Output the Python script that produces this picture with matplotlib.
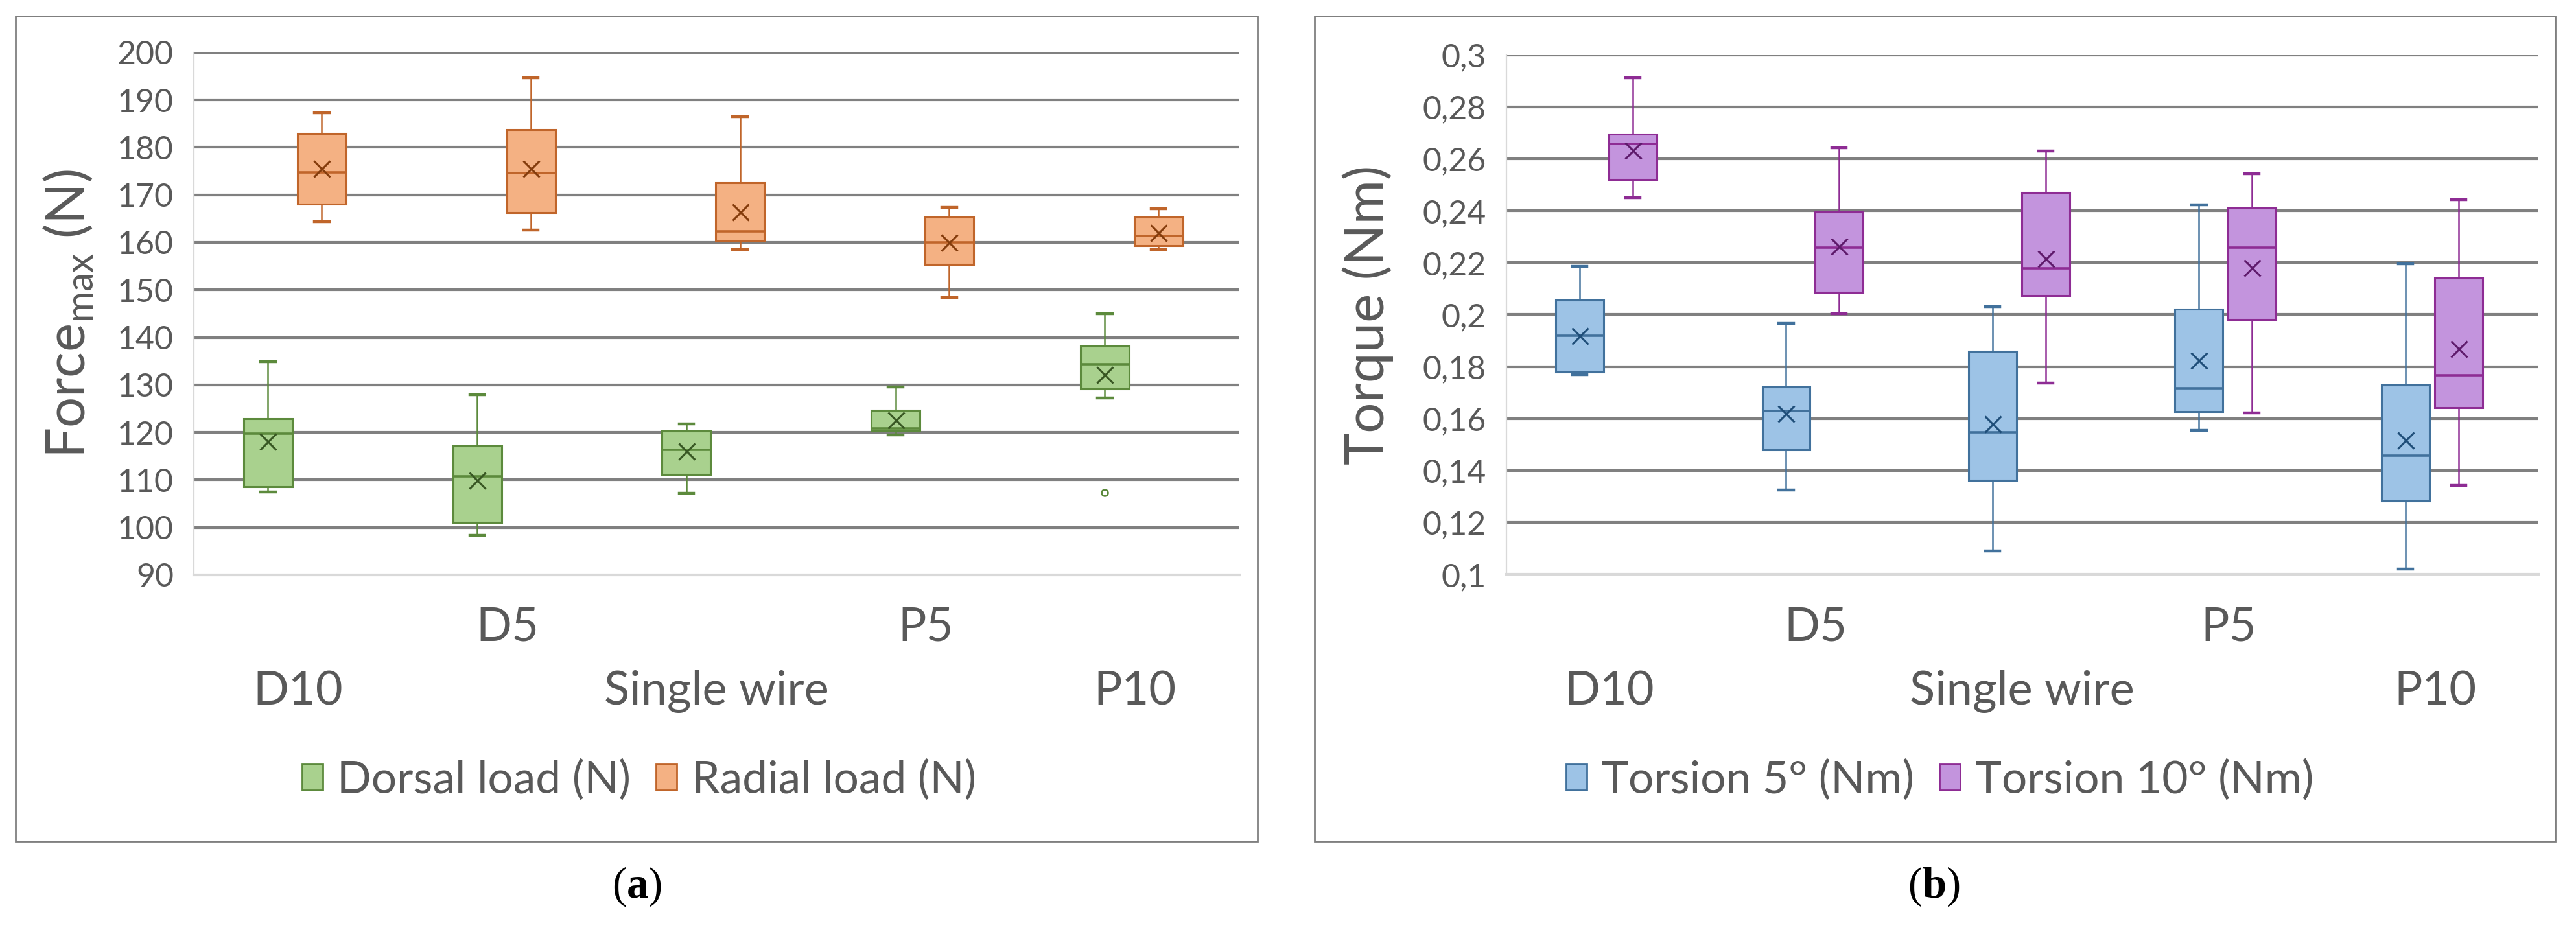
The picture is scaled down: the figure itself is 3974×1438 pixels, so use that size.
import matplotlib
matplotlib.use('Agg')
import matplotlib.pyplot as plt
from matplotlib.patches import Patch, Rectangle
from matplotlib import transforms

plt.rcParams['font.family'] = ['Lato', 'DejaVu Sans']
plt.rcParams['mathtext.fontset'] = 'custom'
plt.rcParams['mathtext.rm'] = 'Lato'
plt.rcParams['mathtext.bf'] = 'Liberation Serif:bold'

# data
categories = ['D10', 'D5', 'Single wire', 'P5', 'P10']

dorsal_whislo = [107.5, 98.3, 107.2, 119.4, 127.2]
dorsal_q1 = [108.5, 101.1, 111.2, 120.3, 129.1]
dorsal_med = [119.7, 110.7, 116.3, 120.8, 134.3]
dorsal_q3 = [122.9, 117.2, 120.3, 124.7, 138.2]
dorsal_whishi = [134.9, 127.9, 121.8, 129.6, 145.0]
dorsal_mean = [118.1, 109.9, 116.0, 122.6, 132.2]
dorsal_fliers = [[], [], [], [], [107.3]]

radial_whislo = [164.3, 162.6, 158.5, 148.4, 158.5]
radial_q1 = [168.0, 166.3, 160.3, 155.3, 159.3]
radial_med = [174.7, 174.6, 162.3, 160.0, 161.4]
radial_q3 = [182.9, 183.8, 172.5, 165.3, 165.3]
radial_whishi = [187.3, 194.6, 186.4, 167.3, 167.1]
radial_mean = [175.5, 175.5, 166.4, 160.0, 162.0]

t5_whislo = [0.1769, 0.1324, 0.1091, 0.1555, 0.1021]
t5_q1 = [0.178, 0.148, 0.1362, 0.1628, 0.1283]
t5_med = [0.192, 0.163, 0.1546, 0.1717, 0.1457]
t5_q3 = [0.2055, 0.1722, 0.1858, 0.202, 0.173]
t5_whishi = [0.2185, 0.1966, 0.2031, 0.2423, 0.2196]
t5_mean = [0.192, 0.1619, 0.158, 0.1825, 0.1518]

t10_whislo = [0.2451, 0.2003, 0.1736, 0.1621, 0.1342]
t10_q1 = [0.2521, 0.2086, 0.2073, 0.1981, 0.1641]
t10_med = [0.2658, 0.2259, 0.2178, 0.2259, 0.1767]
t10_q3 = [0.2694, 0.2395, 0.2471, 0.241, 0.214]
t10_whishi = [0.2911, 0.2643, 0.263, 0.2543, 0.2443]
t10_mean = [0.2632, 0.2262, 0.2217, 0.2181, 0.1869]

force_ticks = [90, 100, 110, 120, 130, 140, 150, 160, 170, 180, 190, 200]
torque_ticks = [0.1, 0.12, 0.14, 0.16, 0.18, 0.2, 0.22, 0.24, 0.26, 0.28, 0.3]
torque_ticklabels = ['0,1', '0,12', '0,14', '0,16', '0,18', '0,2', '0,22', '0,24', '0,26', '0,28', '0,3']

TXT = '#595959'


def make_stats(lo, q1, med, q3, hi, mean, fliers=None):
    out = []
    for i in range(len(lo)):
        out.append(dict(whislo=lo[i], q1=q1[i], med=med[i], q3=q3[i], whishi=hi[i],
                        mean=mean[i], fliers=fliers[i] if fliers else []))
    return out


def draw_series(ax, stats, offset, face, edge, dark):
    pos = [i + offset for i in range(len(stats))]
    ax.bxp(stats, positions=pos, widths=0.232, patch_artist=True, showmeans=True,
           capwidths=0.07, manage_ticks=False,
           boxprops=dict(facecolor=face, edgecolor=edge, linewidth=1.1),
           medianprops=dict(color=edge, linewidth=1.3),
           whiskerprops=dict(color=edge, linewidth=0.9),
           capprops=dict(color=edge, linewidth=1.6),
           meanprops=dict(marker='x', markeredgecolor=dark, markersize=9, markeredgewidth=1.1),
           flierprops=dict(marker='o', markerfacecolor='white', markeredgecolor=edge,
                           markersize=3.5, markeredgewidth=1.0))


def style_axes(ax, ticks, ticklabels):
    ax.set_xlim(-0.5, 4.5)
    ax.set_ylim(ticks[0], ticks[-1])
    ax.set_yticks(ticks)
    ax.set_yticklabels(ticklabels)
    ax.set_xticks(range(len(categories)))
    ax.set_xticklabels([])
    ax.tick_params(axis='both', length=0, labelsize=18, labelcolor=TXT, pad=11)
    ax.yaxis.grid(True, color='#808080', linewidth=1.5)
    ax.get_ygridlines()[0].set_visible(False)
    ax.set_axisbelow(True)
    for s in ['top', 'right']:
        ax.spines[s].set_visible(False)
    ax.spines['left'].set_color('#d9d9d9')
    ax.spines['left'].set_linewidth(0.8)
    ax.spines['bottom'].set_color('#d9d9d9')
    ax.spines['bottom'].set_linewidth(1.5)
    # staggered category labels
    tr = transforms.blended_transform_factory(ax.transData, ax.figure.transFigure)
    for i, c in enumerate(categories):
        y = 0.3268 if i % 2 == 1 else 0.258
        ax.text(i, y, c, transform=tr, ha='center', va='center', fontsize=26, color=TXT)


fig = plt.figure(figsize=(19.87, 7.19), dpi=200)

ax1 = fig.add_axes([0.07514, 0.3832, 0.406, 0.5606])
ax2 = fig.add_axes([0.5847, 0.3837, 0.4007, 0.5574])

draw_series(ax1, make_stats(dorsal_whislo, dorsal_q1, dorsal_med, dorsal_q3, dorsal_whishi,
                            dorsal_mean, dorsal_fliers),
            -0.144, '#a9d18e', '#5c8a3c', '#385723')
draw_series(ax1, make_stats(radial_whislo, radial_q1, radial_med, radial_q3, radial_whishi,
                            radial_mean),
            0.113, '#f4b183', '#c0652a', '#843c0c')
style_axes(ax1, force_ticks, [str(t) for t in force_ticks])
ax1.set_ylabel(r'Force$_{\mathrm{max}}$ (N)', fontsize=30, color=TXT)
ax1.yaxis.set_label_coords(-0.094, 0.5)

draw_series(ax2, make_stats(t5_whislo, t5_q1, t5_med, t5_q3, t5_whishi, t5_mean),
            -0.144, '#9dc3e6', '#41719c', '#1f4e79')
draw_series(ax2, make_stats(t10_whislo, t10_q1, t10_med, t10_q3, t10_whishi, t10_mean),
            0.113, '#c394dd', '#8e2c94', '#5e1a6b')
style_axes(ax2, torque_ticks, torque_ticklabels)
ax2.set_ylabel('Torque (Nm)', fontsize=30, color=TXT)
ax2.yaxis.set_label_coords(-0.109, 0.5)

# legends
leg_kw = dict(loc='center', ncol=2, frameon=False, fontsize=25, labelcolor=TXT,
              handlelength=0.46, handleheight=0.5, handletextpad=0.33, columnspacing=0.56)
fig.legend(handles=[Patch(facecolor='#a9d18e', edgecolor='#5c8a3c', label='Dorsal load (N)'),
                    Patch(facecolor='#f4b183', edgecolor='#c0652a', label='Radial load (N)')],
           bbox_to_anchor=(0.2481, 0.163), **leg_kw)
fig.legend(handles=[Patch(facecolor='#9dc3e6', edgecolor='#41719c', label='Torsion 5° (Nm)'),
                    Patch(facecolor='#c394dd', edgecolor='#8e2c94', label='Torsion 10° (Nm)')],
           bbox_to_anchor=(0.7531, 0.163), **leg_kw)

# panel frames
fig.add_artist(Rectangle((0.00594, 0.0975), 0.4823, 0.8848, transform=fig.transFigure,
                         fill=False, edgecolor='#7f7f7f', linewidth=1.0))
fig.add_artist(Rectangle((0.5102, 0.0975), 0.4817, 0.8848, transform=fig.transFigure,
                         fill=False, edgecolor='#7f7f7f', linewidth=1.0))

# captions
fig.text(0.2471, 0.0487, r'($\mathbf{a}$)', family='Liberation Serif', fontsize=24,
         ha='center', va='center', color='black')
fig.text(0.7506, 0.0487, r'($\mathbf{b}$)', family='Liberation Serif', fontsize=24,
         ha='center', va='center', color='black')

fig.savefig('out.png', dpi=200)
